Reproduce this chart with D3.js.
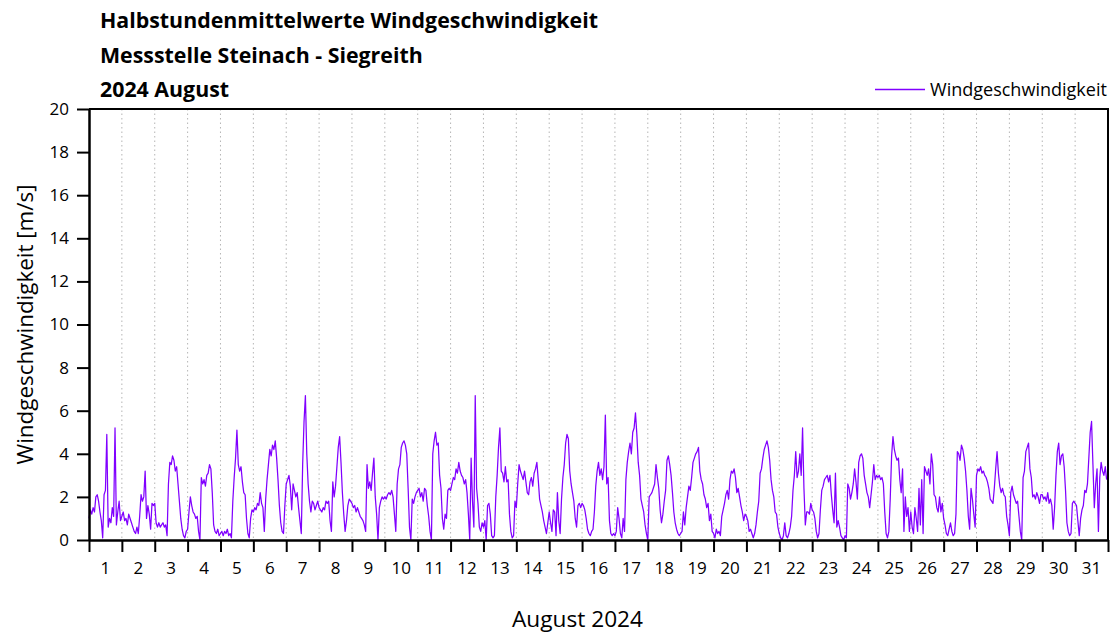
<!DOCTYPE html>
<html>
<head>
<meta charset="utf-8">
<script src="https://cdn.jsdelivr.net/npm/d3@7/dist/d3.min.js"></script>
<style>
  body { margin: 0; background: #fff; }
  svg text { font-family: "Open Sans", sans-serif; fill: #000; }
</style>
</head>
<body>
<svg id="chart" width="1117" height="639"></svg>
<script>
const titleLines = [
  "Halbstundenmittelwerte Windgeschwindigkeit",
  "Messstelle Steinach - Siegreith",
  "2024 August"
];
const seriesName = "Windgeschwindigkeit";
const yLabel = "Windgeschwindigkeit [m/s]";
const xLabel = "August 2024";
const yTicks = [0, 2, 4, 6, 8, 10, 12, 14, 16, 18, 20];
const dayLabels = [1, 2, 3, 4, 5, 6, 7, 8, 9, 10, 11, 12, 13, 14, 15, 16,
  17, 18, 19, 20, 21, 22, 23, 24, 25, 26, 27, 28, 29, 30, 31];

// wind speed in m/s, one value per hour (one row per day)
const windSpeed = [
  1.0,1.4,1.2,1.5,1.3,2.0,2.1,1.8,1.3,0.9,0.1,2.1,2.3,4.9,0.6,1.0,0.8,1.5,1.1,5.2,0.7,1.3,1.8,0.9,
  1.1,1.3,0.9,1.0,0.7,1.2,1.0,0.8,0.6,0.4,0.3,0.6,0.3,1.1,2.1,1.8,2.0,3.2,1.0,1.6,1.2,0.5,1.7,1.6,
  1.7,0.8,0.6,0.8,0.6,0.7,0.8,0.6,0.7,0.2,2.6,3.6,3.5,3.9,3.7,3.2,3.4,2.6,1.8,1.0,0.5,0.2,0.1,0.4,
  0.5,1.3,2.0,1.6,1.3,1.2,1.0,1.1,0.4,0.0,2.9,2.6,2.8,2.5,3.0,3.1,3.5,3.3,2.2,0.7,0.4,0.3,0.5,0.2,
  0.3,0.4,0.2,0.4,0.3,0.5,0.2,0.3,0.1,1.8,2.9,3.8,5.1,3.5,3.2,3.4,2.7,2.2,2.1,1.0,0.3,0.1,1.0,1.4,
  1.3,1.5,1.4,1.7,1.6,2.2,1.7,1.5,0.4,1.9,2.8,3.5,4.2,3.9,4.4,4.2,4.6,3.8,2.8,1.6,0.8,0.4,0.3,1.6,
  2.6,2.8,3.0,2.5,1.4,2.6,2.3,2.0,2.2,1.5,0.9,0.3,3.5,5.5,6.7,4.0,2.6,1.8,1.3,1.8,1.7,1.4,1.6,1.8,
  1.5,1.4,1.3,1.5,1.4,1.8,1.7,1.8,0.9,0.4,2.7,2.0,2.5,3.4,4.3,4.8,3.6,2.2,1.2,0.4,0.9,1.6,1.9,1.8,
  1.7,1.5,1.6,1.3,1.5,1.3,1.1,1.0,0.9,0.7,0.4,3.5,2.4,2.7,2.3,3.1,3.8,2.0,1.2,0.0,1.5,1.8,2.0,1.9,
  2.0,1.9,2.1,2.2,2.1,2.3,2.0,1.2,0.4,2.6,3.3,3.5,4.3,4.5,4.6,4.4,4.0,2.4,0.6,0.0,1.9,1.7,2.0,2.2,
  2.3,2.4,2.0,2.2,1.8,2.4,2.3,1.6,1.1,0.4,0.0,4.0,4.6,5.0,4.4,4.5,3.0,2.4,1.0,0.5,1.2,1.0,2.3,2.4,
  2.3,2.6,2.9,2.8,3.3,3.1,3.6,3.2,3.0,2.9,2.6,2.8,2.2,1.2,0.0,3.8,1.8,0.6,6.7,2.4,1.7,0.6,0.4,0.8,
  0.6,0.9,0.0,1.6,1.7,1.2,0.2,0.1,0.2,2.0,3.0,4.3,5.2,3.2,3.1,2.7,3.4,2.7,2.8,1.2,0.4,0.1,0.2,1.8,
  1.5,2.6,3.5,3.2,3.0,2.8,3.2,2.7,2.2,2.1,2.7,2.9,2.5,3.1,3.3,3.6,2.8,1.9,1.6,1.3,0.9,0.6,0.3,0.8,
  1.3,0.8,0.4,1.4,1.3,0.2,2.2,0.9,0.3,1.9,2.9,3.5,4.5,4.9,4.7,3.2,2.6,2.2,1.8,1.0,0.6,1.6,1.7,1.5,
  1.7,1.6,1.4,1.0,0.5,0.3,0.2,0.4,0.5,1.3,2.5,3.2,3.6,3.0,3.3,2.8,3.4,5.8,2.6,2.9,0.9,0.3,0.2,0.3,
  0.2,0.4,1.5,1.0,0.3,0.1,1.0,0.4,2.8,3.6,4.1,4.5,4.0,5.0,5.2,5.9,4.9,3.6,3.0,1.9,1.6,1.3,0.7,0.3,
  0.0,2.0,2.1,2.2,2.4,2.6,3.5,2.9,2.4,1.4,0.8,1.2,1.8,2.3,3.7,3.9,3.5,3.0,2.2,1.3,0.8,0.5,0.3,0.2,
  0.3,0.4,1.3,0.7,1.5,2.0,2.5,2.3,2.9,3.6,3.8,4.0,4.1,4.3,3.2,2.8,2.6,2.1,1.9,1.5,1.7,0.9,1.2,0.4,
  0.3,0.1,0.5,0.3,0.4,0.2,1.1,1.4,1.7,2.1,2.3,1.9,2.8,3.2,3.1,3.3,2.9,2.2,2.4,2.0,1.6,1.3,0.9,1.2,
  1.1,0.9,0.4,0.5,0.3,0.1,0.3,0.7,1.3,1.8,3.1,3.3,3.8,4.2,4.4,4.6,4.3,3.7,2.8,2.3,2.0,1.3,1.2,0.6,
  0.3,0.1,0.0,0.2,0.8,0.2,0.1,0.3,0.6,1.1,2.3,3.0,4.1,2.9,3.2,4.0,3.0,5.2,2.4,0.7,1.3,1.3,1.2,1.7,
  1.4,1.3,1.0,0.4,0.1,0.3,1.4,2.3,2.5,2.8,2.9,3.0,2.7,3.0,2.1,1.4,0.8,3.1,0.6,0.9,0.6,0.2,0.1,0.0,
  0.2,0.1,2.6,2.4,1.9,2.2,2.6,3.3,2.7,1.9,3.6,3.9,4.0,3.8,3.0,2.6,2.2,2.0,1.5,2.1,2.7,3.5,2.8,3.0,
  2.9,3.0,2.8,2.9,2.6,1.3,0.3,0.1,0.4,1.9,3.9,4.8,4.2,3.9,3.7,3.8,2.8,2.2,3.3,0.4,2.0,1.1,1.5,0.4,
  1.3,0.6,0.3,1.5,1.0,0.4,2.4,0.7,2.8,0.3,3.4,3.2,3.0,3.3,2.6,4.0,3.5,2.1,2.0,1.5,1.3,2.0,1.3,1.7,
  1.0,0.7,0.3,0.2,0.5,0.8,0.4,0.2,0.3,1.2,4.1,4.0,3.7,4.4,4.2,3.8,3.2,2.3,1.1,0.5,2.4,1.9,1.2,0.6,
  3.0,3.3,3.2,3.4,3.1,3.2,3.0,2.9,2.7,2.4,1.9,1.8,1.7,2.4,3.3,4.1,3.1,2.5,2.2,2.4,2.1,2.0,1.1,0.7,
  0.2,2.2,2.5,2.1,1.9,1.7,1.8,1.1,0.4,0.0,2.9,3.2,4.1,4.3,4.5,3.3,2.9,2.0,2.1,1.9,2.2,2.0,1.7,2.1,
  2.1,1.9,2.0,1.8,2.2,1.7,1.9,1.6,0.5,1.5,3.0,4.1,4.5,3.5,3.9,4.0,3.4,2.3,0.8,0.4,0.2,0.3,1.7,1.8,
  1.7,1.6,0.9,0.2,1.0,1.4,1.6,2.3,2.2,2.6,3.8,5.0,5.5,3.5,1.5,2.6,3.3,0.4,2.9,3.6,3.2,3.0,3.4,2.8
];

const margin = {top: 109, right: 9, bottom: 99, left: 89};
const width = 1117 - margin.left - margin.right;
const height = 639 - margin.top - margin.bottom;
const lineColor = "#8000ff";

const start = Date.UTC(2024, 7, 1);
const end = Date.UTC(2024, 8, 1);
const hour = 3600 * 1000;
const data = windSpeed.map((v, i) => ({t: new Date(start + i * hour), v: v}));

const svg = d3.select("#chart");

// fit a text to a measured width
const fitText = (sel, target) => {
  const len = sel.node().getComputedTextLength();
  const fs = parseFloat(sel.attr("font-size"));
  sel.attr("font-size", (fs * target / len).toFixed(2));
};

// titles
titleLines.forEach((line, i) => {
  svg.append("text")
    .attr("x", 100)
    .attr("y", [28, 62.5, 97][i])
    .attr("font-size", 20)
    .attr("font-weight", "bold")
    .text(line);
});
fitText(svg.select("text"), 498);
const tfs = svg.select("text").attr("font-size");
svg.selectAll("text").attr("font-size", tfs);

// legend
svg.append("line")
  .attr("x1", 875).attr("x2", 925)
  .attr("y1", 89.5).attr("y2", 89.5)
  .attr("stroke", lineColor)
  .attr("stroke-width", 1.3);
const legendText = svg.append("text")
  .attr("x", 930)
  .attr("y", 96)
  .attr("font-size", 18)
  .text(seriesName);
fitText(legendText, 177);

const g = svg.append("g")
  .attr("transform", "translate(" + margin.left + "," + margin.top + ")");

const x = d3.scaleUtc()
  .domain([new Date(start), new Date(end)])
  .range([0, width]);

const y = d3.scaleLinear()
  .domain([0, 20])
  .range([height, 0]);

const dayBounds = d3.utcDay.range(new Date(start), new Date(end + 1));

// dotted day grid
g.append("g")
  .selectAll("line")
  .data(dayBounds.slice(1, -1))
  .enter()
  .append("line")
  .attr("x1", d => x(d)).attr("x2", d => x(d))
  .attr("y1", 0).attr("y2", height)
  .attr("stroke", "#b5b5b5")
  .attr("stroke-width", 1)
  .attr("stroke-dasharray", "1.5,3");

// data line
g.append("path")
  .datum(data)
  .attr("fill", "none")
  .attr("stroke", lineColor)
  .attr("stroke-width", 1.25)
  .attr("stroke-linejoin", "round")
  .attr("d", d3.line().x(d => x(d.t)).y(d => y(d.v)));

// frame top + right
g.append("path")
  .attr("d", "M0,0H" + width + "V" + height)
  .attr("fill", "none")
  .attr("stroke", "#000")
  .attr("stroke-width", 2);

// y axis
const yAxis = g.append("g")
  .call(d3.axisLeft(y).tickValues(yTicks).tickSize(12).tickSizeOuter(0).tickPadding(8));
yAxis.select(".domain").attr("stroke-width", 2.5);
yAxis.selectAll(".tick line").attr("stroke-width", 2);
yAxis.selectAll(".tick text")
  .attr("font-size", 17)
  .attr("font-family", "'Open Sans', sans-serif");

// x axis: ticks on day bounds, labels in the middle of each day
const xAxis = g.append("g")
  .attr("transform", "translate(0," + height + ")")
  .call(d3.axisBottom(x).tickValues(dayBounds).tickSize(12).tickSizeOuter(0).tickFormat(""));
xAxis.select(".domain").attr("stroke-width", 2.5);
xAxis.selectAll(".tick line").attr("stroke-width", 2);

g.append("g")
  .selectAll("text")
  .data(dayLabels)
  .enter()
  .append("text")
  .attr("x", d => x(new Date(start + ((d - 1) * 24 + 12) * hour)))
  .attr("y", height + 34)
  .attr("text-anchor", "middle")
  .attr("font-size", 17)
  .text(d => d);

// axis titles
const yTitle = svg.append("text")
  .attr("transform", "translate(33," + (margin.top + height / 2) + ") rotate(-90)")
  .attr("text-anchor", "middle")
  .attr("font-size", 20)
  .text(yLabel);
fitText(yTitle, 280);

const xTitle = svg.append("text")
  .attr("x", 577.5)
  .attr("y", 627)
  .attr("text-anchor", "middle")
  .attr("font-size", 20)
  .text(xLabel);
fitText(xTitle, 131);
</script>
</body>
</html>
